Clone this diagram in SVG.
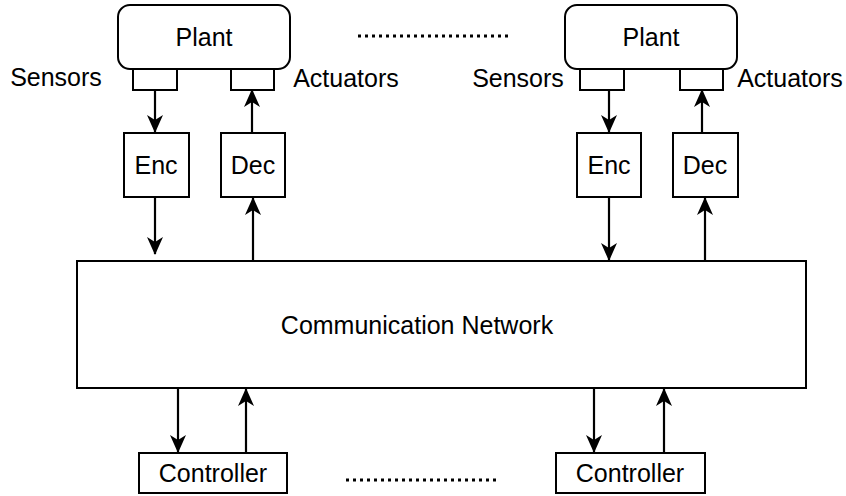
<svg xmlns="http://www.w3.org/2000/svg" width="846" height="496" viewBox="0 0 846 496">
<style>
.b{fill:#fff;stroke:#000;stroke-width:2}
.t{font-family:"Liberation Sans",Arial,sans-serif;font-size:25px;fill:#000;text-anchor:middle;dominant-baseline:central}
.c{stroke:#000;stroke-width:2.2;fill:none;marker-end:url(#a)}
.d{stroke:#000;stroke-width:3;stroke-dasharray:3 4;fill:none}
</style>
<defs>
<marker id="a" viewBox="0 0 18 18" refX="17" refY="9" markerWidth="18" markerHeight="18" markerUnits="userSpaceOnUse" orient="auto">
<path d="M0,1 L18,9 L0,17 L5,9 Z" fill="#000"/>
</marker>
</defs>
<rect width="846" height="496" fill="#fff"/>
<g id="plant1">
<rect class="b" x="118" y="5" width="172" height="64" rx="12"/>
<text class="t" x="204" y="37">Plant</text>
</g>
<g id="sensor1"><rect class="b" x="133" y="69" width="44" height="21"/></g>
<g id="actuator1"><rect class="b" x="231" y="69" width="43" height="21"/></g>
<text class="t" x="56" y="77">Sensors</text>
<text class="t" x="346" y="78">Actuators</text>
<g id="plant2">
<rect class="b" x="565" y="5" width="172" height="64" rx="12"/>
<text class="t" x="651" y="37">Plant</text>
</g>
<g id="sensor2"><rect class="b" x="580" y="69" width="44" height="21"/></g>
<g id="actuator2"><rect class="b" x="680" y="69" width="43" height="21"/></g>
<text class="t" x="518" y="78">Sensors</text>
<text class="t" x="790" y="78">Actuators</text>
<g id="enc1"><rect class="b" x="124" y="133" width="65" height="64"/><text class="t" x="156" y="165">Enc</text></g>
<g id="dec1"><rect class="b" x="221" y="133" width="64" height="64"/><text class="t" x="253" y="165">Dec</text></g>
<g id="enc2"><rect class="b" x="577" y="133" width="64" height="64"/><text class="t" x="609" y="165">Enc</text></g>
<g id="dec2"><rect class="b" x="673" y="133" width="65" height="64"/><text class="t" x="705" y="165">Dec</text></g>
<g id="network"><rect class="b" x="77" y="261" width="729" height="127"/><text class="t" x="417" y="325">Communication Network</text></g>
<g id="ctrl1"><rect class="b" x="139" y="453" width="148" height="40"/><text class="t" x="213" y="473">Controller</text></g>
<g id="ctrl2"><rect class="b" x="556" y="453" width="149" height="40"/><text class="t" x="630" y="473">Controller</text></g>
<g id="connectors">
<path class="c" d="M155,90 V132"/>
<path class="c" d="M252,133 V90"/>
<path class="c" d="M155,197 V254"/>
<path class="c" d="M253,261 V198"/>
<path class="c" d="M609,90 V132"/>
<path class="c" d="M702,133 V90"/>
<path class="c" d="M609,197 V260"/>
<path class="c" d="M705,261 V198"/>
<path class="c" d="M178,388 V452"/>
<path class="c" d="M246,453 V389"/>
<path class="c" d="M594,388 V452"/>
<path class="c" d="M664,453 V389"/>
<path class="d" d="M358,36 H511"/>
<path class="d" d="M346,480 H500"/>
</g>
</svg>
